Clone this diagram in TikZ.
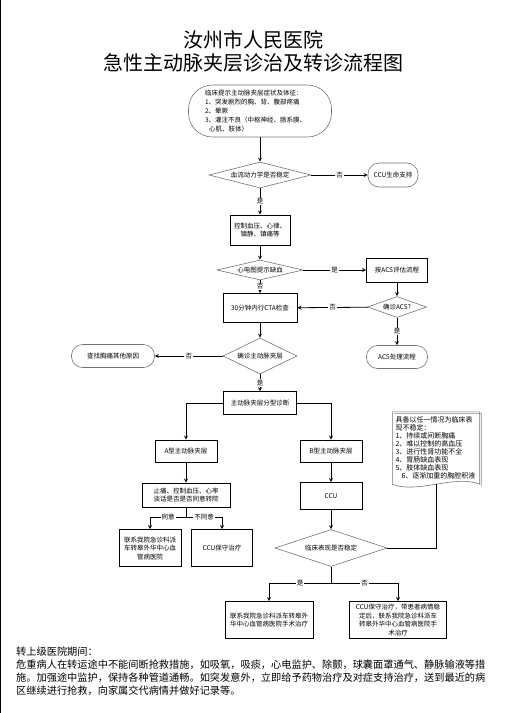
\documentclass[tikz,border=0pt]{standalone}
\usepackage{fontspec}
\setmainfont{Noto Sans CJK SC}
\usepackage{tikz}
\usetikzlibrary{shapes.geometric, arrows}
\tikzstyle{startstop} = [rectangle, rounded corners=11pt, draw=black!55, line width=0.6pt, align=center, font=\fontsize{6.5}{8}\selectfont, inner sep=1pt]
\tikzstyle{process} = [rectangle, draw=black, line width=0.9pt, align=center, font=\fontsize{6.5}{8.5}\selectfont, inner sep=1pt]
\tikzstyle{decision} = [diamond, draw=black!55, line width=0.6pt, align=center, font=\fontsize{6.5}{8}\selectfont, inner sep=0pt]
\tikzstyle{arrow} = [line width=0.8pt,->,>=stealth]
\tikzstyle{line} = [line width=0.8pt]
\tikzstyle{yesno} = [fill=white, inner sep=1pt, font=\fontsize{6.5}{7}\selectfont]

\begin{document}
\begin{tikzpicture}[x=1pt, y=1pt, node distance=40pt]
\useasboundingbox (0,0) rectangle (504,-713);
\draw [line width=1.2pt] (0.6,0) -- (0.6,-713);

\node (title) at (253,-51) [align=center, font=\fontsize{20}{23}\selectfont] {汝州市人民医院\\急性主动脉夹层诊治及转诊流程图};

\node (start) at (260,-111) [startstop, rounded corners=24pt, minimum width=143pt, minimum height=52pt, text width=110pt, align=left, font=\fontsize{6.5}{9}\selectfont] {临床提示主动脉夹层症状及体征：\\1、突发剧烈的胸、背、腹部疼痛\\2、晕厥\\3、灌注不良（中枢神经、肠系膜、\\\hspace*{4pt}心肌、肢体）};
\node (stable) [decision, below of=start, node distance=64pt, aspect=3.9, minimum width=102pt, minimum height=26pt] {血流动力学是否稳定};
\node (cculife) [startstop, right of=stable, node distance=133pt, minimum width=50pt, minimum height=24pt] {CCU生命支持};
\node (control) [process, below of=stable, node distance=55pt, minimum width=60pt, minimum height=30pt] {控制血压、心律、\\镇静、镇痛等};
\node (ecg) [decision, below of=control, node distance=40pt, aspect=4.3, minimum width=86pt, minimum height=20pt] {心电图提示缺血};
\node (acseval) [process, right of=ecg, node distance=137pt, minimum width=61pt, minimum height=24pt] {按ACS评估流程};
\node (acsdx) [decision, below of=acseval, node distance=37pt, aspect=2.8, minimum width=59pt, minimum height=21pt] {确诊ACS?};
\node (acsproc) [startstop, below of=acsdx, node distance=50pt, minimum width=61pt, minimum height=23pt] {ACS处理流程};
\node (cta) [process, below of=ecg, node distance=38pt, minimum width=74pt, minimum height=29pt] {30分钟内行CTA检查};
\node (aadx) [decision, below of=cta, node distance=48pt, aspect=2, minimum width=74pt, minimum height=36pt] {确诊主动脉夹层};
\node (other) [startstop, left of=aadx, node distance=147pt, minimum width=83pt, minimum height=23pt] {查找胸痛其他原因};
\node (typing) [process, below of=aadx, node distance=47pt, minimum width=73pt, minimum height=23pt] {主动脉夹层分型诊断};

% A型
\node (typea) [process, below of=typing, node distance=48pt, xshift=-74pt, minimum width=62pt, minimum height=22pt] {A型主动脉夹层};
\node (talk) [process, below of=typea, node distance=44pt, minimum width=88pt, minimum height=24pt] {止痛、控制血压、心率\\谈话是否是否同意转院};
\coordinate [below of=talk, node distance=22pt] (talksplit);
\node (transfer) [process, below of=talk, node distance=53pt, xshift=-36pt, minimum width=62pt, minimum height=37pt] {联系我院急诊科派\\车转皋外华中心血\\管病医院};
\node (ccukeep) [process, below of=talk, node distance=53pt, xshift=36pt, minimum width=61pt, minimum height=37pt] {CCU保守治疗};

% B型
\node (typeb) [process, below of=typing, node distance=48pt, xshift=71pt, minimum width=62pt, minimum height=22pt] {B型主动脉夹层};
\node (ccu) [process, below of=typeb, node distance=45pt, minimum width=62pt, minimum height=27pt] {CCU};
\node (clinic) [decision, below of=ccu, node distance=52pt, aspect=3, minimum width=112pt, minimum height=37pt] {临床表现是否稳定};
\coordinate [below of=clinic, node distance=35pt] (clinicsplit);
\node (surgery) [process, below of=clinic, node distance=72pt, xshift=-62pt, minimum width=88pt, minimum height=37pt] {联系我院急诊科派车转皋外\\华中心血管病医院手术治疗};
\node (ccustable) [process, below of=clinic, node distance=72pt, xshift=67pt, minimum width=97pt, minimum height=37pt] {CCU保守治疗，带患者病情稳\\定后，联系我院急诊科派车\\转皋外华中心血管病医院手\\术治疗};

\node (note) [right of=typeb, node distance=105pt, yshift=3pt, minimum width=87pt, minimum height=72pt, text width=81pt, inner sep=3pt, align=left, font=\fontsize{7}{8}\selectfont] {具备以任一情况为临床表\\现不稳定：\\1、持续或间断胸痛\\2、难以控制的高血压\\3、进行性肾功能不全\\4、胃肠缺血表现\\5、肢体缺血表现\\\hspace*{6pt}6、逐渐加重的胸腔积液};
\draw [black!30, line width=1pt] ([xshift=1.5pt,yshift=-1.5pt]note.north west) -- ([xshift=1.5pt,yshift=-1.5pt]note.north east) -- ([xshift=1.5pt,yshift=-1.5pt]note.south east);
\draw [black!55, line width=0.6pt] (note.south west) -- (note.north west) -- (note.north east) -- (note.south east) .. controls +(-25pt,10pt) and +(25pt,-10pt) .. (note.south west);

\node (transit) [anchor=north west, inner sep=0pt, align=left, font=\fontsize{10.2}{12.8}\selectfont] at (16,-647) {转上级医院期间：\\危重病人在转运途中不能间断抢救措施，如吸氧，吸痰，心电监护、除颤，球囊面罩通气、静脉输液等措\\施。加强途中监护，保持各种管道通畅。如突发意外，立即给予药物治疗及对症支持治疗，送到最近的病\\区继续进行抢救，向家属交代病情并做好记录等。};

\draw [arrow] (start) -- (stable);
\draw [arrow] (stable) -- node[yesno] {否} (cculife);
\draw [arrow] (stable) -- node[yesno] {是} (control);
\draw [arrow] (control) -- (ecg);
\draw [arrow] (ecg) -- node[yesno] {是} (acseval);
\draw [arrow] (ecg) -- node[yesno] {否} (cta);
\draw [arrow] (acseval) -- (acsdx);
\draw [arrow] (acsdx) -- node[yesno] {否} (cta);
\draw [arrow] (acsdx) -- node[yesno] {是} (acsproc);
\draw [arrow] (cta) -- (aadx);
\draw [arrow] (aadx) -- node[yesno] {否} (other);
\draw [arrow] (aadx) -- node[yesno] {是} (typing);
\draw [arrow] (typing) -| (typea);
\draw [arrow] (typing) -| (typeb);
\draw [arrow] (typea) -- (talk);
\draw [arrow] (talk) -- (talksplit) -| node[yesno, pos=0.25] {同意} (transfer);
\draw [arrow] (talksplit) -| node[yesno, pos=0.25] {不同意} (ccukeep);
\draw [arrow] (typeb) -- (ccu);
\draw [arrow] (ccu) -- (clinic);
\draw [arrow] (clinic) -- (clinicsplit) -| node[yesno, pos=0.25] {是} (surgery);
\draw [arrow] (clinicsplit) -| node[yesno, pos=0.25] {否} (ccustable);
\draw [line] (clinic) -| (note.south);
\end{tikzpicture}
\end{document}
